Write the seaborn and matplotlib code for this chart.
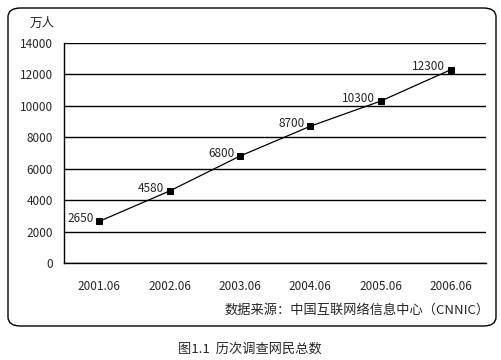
import seaborn as sns
import matplotlib.pyplot as plt
from matplotlib.patches import FancyBboxPatch
from matplotlib.ticker import FixedLocator

# Data
periods = ['2001.06', '2002.06', '2003.06', '2004.06', '2005.06', '2006.06']
users = [2650, 4580, 6800, 8700, 10300, 12300]
y_ticks = [0, 2000, 4000, 6000, 8000, 10000, 12000, 14000]

sns.set_style('white')
plt.rcParams['font.family'] = ['Noto Sans CJK SC', 'DejaVu Sans']

W, H = 501, 360
fig = plt.figure(figsize=(W / 100, H / 100), dpi=100)
ax = fig.add_axes([64 / W, 1 - 263 / H, (486 - 64) / W, (263 - 43) / H])

sns.lineplot(x=periods, y=users, ax=ax, color='black', linewidth=0.9,
             marker='s', markersize=5, markeredgecolor='black', sort=False)

for i, v in enumerate(users):
    ax.annotate(str(v), (i, v), xytext=(-4, 2), textcoords='offset points',
                ha='right', va='center', fontsize=8.5)

ax.set_xlim(-0.5, len(periods) - 0.5)
ax.set_ylim(0, 14000)
ax.set_yticks(y_ticks)
ax.set_yticklabels([str(t) for t in y_ticks], fontsize=8.5)
ax.yaxis.grid(True, color='black', linewidth=1)
ax.set_axisbelow(True)
ax.tick_params(axis='y', length=0, pad=8)
ax.tick_params(axis='x', which='major', length=0, pad=12, labelsize=8.5)
ax.xaxis.set_minor_locator(FixedLocator([i + 0.5 for i in range(len(periods))]))
ax.tick_params(axis='x', which='minor', direction='in', length=3, width=1, color='black')
for side in ['top', 'right']:
    ax.spines[side].set_visible(False)
for side in ['left', 'bottom']:
    ax.spines[side].set_color('black')
    ax.spines[side].set_linewidth(1)
ax.set_xlabel('')
ax.set_ylabel('')

# unit label, source, caption
fig.text(30 / W, 1 - 23 / H, '万人', fontsize=9, va='center', ha='left')
fig.text(490 / W, 1 - 310 / H, '数据来源：中国互联网络信息中心（CNNIC）', fontsize=9.5,
         va='center', ha='right')
fig.text(250 / W, 1 - 349 / H, '图1.1  历次调查网民总数', fontsize=9.5,
         va='center', ha='center')

# rounded frame around chart
frame = FancyBboxPatch((8 / W, 1 - 326 / H), (496 - 8) / W, (326 - 8) / H,
                       boxstyle='round,pad=0,rounding_size=0.025',
                       transform=fig.transFigure, fill=False,
                       edgecolor='black', linewidth=1)
fig.patches.append(frame)

fig.savefig('out.png', dpi=100)
